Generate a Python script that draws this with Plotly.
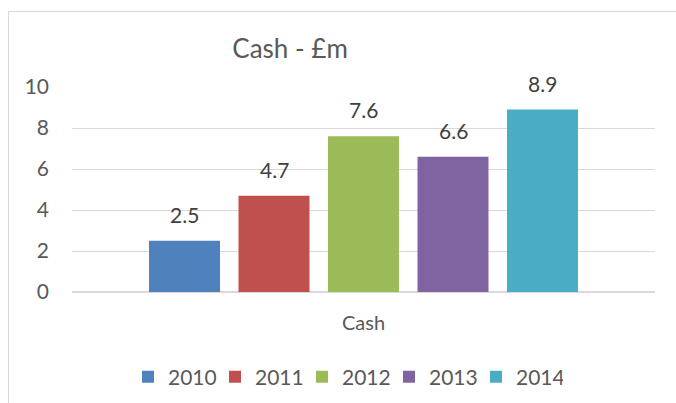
import plotly.graph_objects as go

category = "Cash"
years = ["2010", "2011", "2012", "2013", "2014"]
values = [2.5, 4.7, 7.6, 6.6, 8.9]
colors = ["#4F81BD", "#C0504D", "#9BBB59", "#8064A2", "#4BACC6"]
y_ticks = [0, 2, 4, 6, 8, 10]

FONT = "Lato"
fig = go.Figure()
for i, (yr, v, c) in enumerate(zip(years, values, colors)):
    fig.add_trace(go.Bar(x=[i], y=[v], name=yr, width=0.793,
                         marker=dict(color=c, line=dict(width=0)),
                         hoverinfo="skip"))
    fig.add_annotation(x=i, y=v, text=f"{v:.1f}", showarrow=False,
                       yanchor="bottom", yshift=12,
                       font=dict(family=FONT, size=21, color="#404040"))

fig.update_layout(
    width=676, height=403,
    margin=dict(l=72, r=21, t=87, b=111),
    paper_bgcolor="white", plot_bgcolor="white",
    barmode="overlay",
    title=dict(text="Cash - £m", x=0.374, xref="paper", xanchor="center",
               y=1 - 49 / 403, yref="container", yanchor="middle",
               font=dict(family=FONT, size=26, color="#595959")),
    xaxis=dict(range=[-1.257, 5.257], tickvals=[2], ticktext=[category],
               showgrid=False, zeroline=False, showline=False,
               ticklabelstandoff=17,
               tickfont=dict(family=FONT, size=20, color="#595959")),
    yaxis=dict(range=[0, 10], tickvals=y_ticks, showgrid=True,
               gridcolor="#d9d9d9", gridwidth=1, zeroline=True,
               zerolinecolor="#d9d9d9", zerolinewidth=1.5, showline=False,
               ticklabelstandoff=22,
               tickfont=dict(family=FONT, size=21, color="#595959")),
    legend=dict(orientation="h", x=(128 - 72) / 583, xanchor="left",
                y=1 - 377 / 403, yref="container", yanchor="middle",
                font=dict(family=FONT, size=21, color="#595959"),
                itemwidth=30, traceorder="normal",
                entrywidth=42, entrywidthmode="pixels"),
    shapes=[dict(type="rect", xref="paper", yref="paper",
                 x0=(8.5 - 72) / 583, x1=1.3, y0=-1.5, y1=(292 - 11.5) / 205,
                 line=dict(color="#d9d9d9", width=1), fillcolor="rgba(0,0,0,0)",
                 layer="below")],
)
fig.write_html("out.html", config={"displayModeBar": False},
               post_script="document.body.style.margin='0';document.body.style.overflow='hidden';")
